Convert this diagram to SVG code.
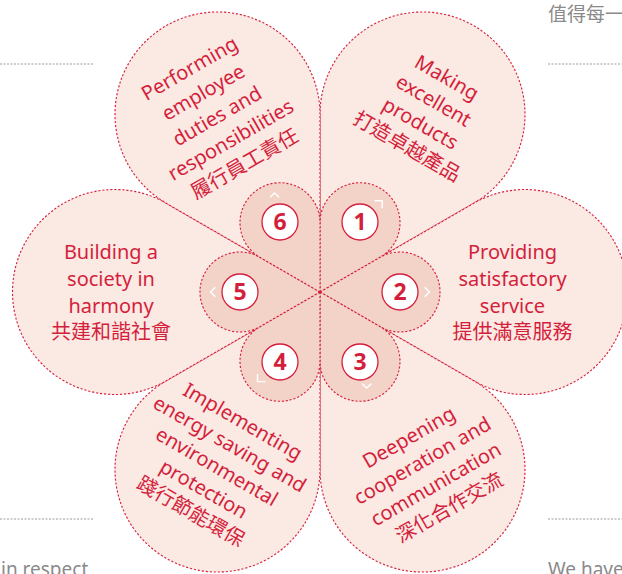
<svg xmlns="http://www.w3.org/2000/svg" width="622" height="574" viewBox="0 0 622 574">
<style>
.outer{fill:#fbe9e3;stroke:#d6233f;stroke-width:1.15;stroke-dasharray:2.2 1.8}
.inner{fill:#f3d3c8;stroke:#d6233f;stroke-width:1.15;stroke-dasharray:2.2 1.8}
.lbl{font-family:"Noto Sans","Noto Sans CJK TC",sans-serif;font-size:20px;fill:#d41f3c;text-anchor:middle}
.num{fill:#fff;stroke:#d41f3c;stroke-width:1.3}
.numt{font-family:"Noto Sans",sans-serif;font-weight:bold;font-size:23px;fill:#d41f3c;text-anchor:middle}
.chev{fill:none;stroke:#fff;stroke-width:1.4}
.side{font-family:"Noto Sans","Noto Sans CJK TC",sans-serif;font-size:19px;fill:#8a8a8a}
.gl{stroke:#9a9a9a;stroke-width:1;stroke-dasharray:2 1.5}
</style>
<defs>
<path id="po" d="M0,0 L153.72,-88.75 A102.5,102.5 0 1 1 153.72,88.75 Z"/>
<path id="pi" d="M0,0 L60,-34.64 A40,40 0 1 1 60,34.64 Z"/>
</defs>
<g id="side-text">
<text class="side" x="548" y="21">值得每一</text>
<text class="side" x="1" y="576">in respect</text>
<text class="side" x="548" y="576">We have</text>
<line class="gl" x1="0" y1="64" x2="94" y2="64"/>
<line class="gl" x1="548" y1="64" x2="622" y2="64"/>
<line class="gl" x1="0" y1="519" x2="94" y2="519"/>
<line class="gl" x1="548" y1="519" x2="622" y2="519"/>
</g>
<g id="petal-1">
<use href="#po" class="outer" transform="translate(320,292) rotate(-60)"/>
<g transform="translate(427,112) rotate(30)">
<text class="lbl" y="-32.75">Making</text>
<text class="lbl" y="-6.25">excellent</text>
<text class="lbl" y="20.25">products</text>
<text class="lbl" y="46.75">打造卓越產品</text>
</g>
</g>
<g id="petal-2">
<use href="#po" class="outer" transform="translate(320,292)"/>
<text class="lbl" x="512.5" y="259">Providing</text>
<text class="lbl" x="512.5" y="286">satisfactory</text>
<text class="lbl" x="512.5" y="313">service</text>
<text class="lbl" x="512.5" y="339">提供滿意服務</text>
</g>
<g id="petal-3">
<use href="#po" class="outer" transform="translate(320,292) rotate(60)"/>
<g transform="translate(429,472.4) rotate(-30)">
<text class="lbl" y="-33.5">Deepening</text>
<text class="lbl" y="-6.5">cooperation and</text>
<text class="lbl" y="20.5">communication</text>
<text class="lbl" y="47.5">深化合作交流</text>
</g>
</g>
<g id="petal-4">
<use href="#po" class="outer" transform="translate(320,292) rotate(120)"/>
<g transform="translate(216.8,466.5) rotate(30)">
<text class="lbl" y="-45">Implementing</text>
<text class="lbl" y="-19">energy saving and</text>
<text class="lbl" y="7">environmental</text>
<text class="lbl" y="33">protection</text>
<text class="lbl" y="59">踐行節能環保</text>
</g>
</g>
<g id="petal-5">
<use href="#po" class="outer" transform="translate(320,292) rotate(180)"/>
<text class="lbl" x="111" y="259">Building a</text>
<text class="lbl" x="111" y="286">society in</text>
<text class="lbl" x="111" y="313">harmony</text>
<text class="lbl" x="111" y="339">共建和諧社會</text>
</g>
<g id="petal-6">
<use href="#po" class="outer" transform="translate(320,292) rotate(-120)"/>
<g transform="translate(217,116) rotate(-30)">
<text class="lbl" y="-48">Performing</text>
<text class="lbl" y="-20.5">employee</text>
<text class="lbl" y="7">duties and</text>
<text class="lbl" y="34.5">responsibilities</text>
<text class="lbl" y="62">履行員工責任</text>
</g>
</g>
<g id="connectors">
<use href="#pi" class="inner" transform="translate(320,292) rotate(-60)"/>
<use href="#pi" class="inner" transform="translate(320,292)"/>
<use href="#pi" class="inner" transform="translate(320,292) rotate(60)"/>
<use href="#pi" class="inner" transform="translate(320,292) rotate(120)"/>
<use href="#pi" class="inner" transform="translate(320,292) rotate(180)"/>
<use href="#pi" class="inner" transform="translate(320,292) rotate(-120)"/>
<circle cx="320" cy="292" r="1.6" fill="#d41f3c"/>
</g>
<g id="step-1">
<circle class="num" cx="360" cy="222" r="18"/>
<text class="numt" x="360" y="230">1</text>
<polyline class="chev" points="374.5,200.8 382.2,200.8 382.2,208.3"/>
</g>
<g id="step-2">
<circle class="num" cx="400" cy="292" r="18"/>
<text class="numt" x="400" y="300">2</text>
<polyline class="chev" points="424.5,287.3 429.5,292 424.5,296.7"/>
</g>
<g id="step-3">
<circle class="num" cx="360" cy="362" r="18"/>
<text class="numt" x="360" y="370">3</text>
<polyline class="chev" points="362,383.5 366.7,388 371.4,383.5"/>
</g>
<g id="step-4">
<circle class="num" cx="280" cy="362" r="18"/>
<text class="numt" x="280" y="370">4</text>
<polyline class="chev" points="257.5,374 257.5,381.6 265.5,381.6"/>
</g>
<g id="step-5">
<circle class="num" cx="240" cy="292" r="18"/>
<text class="numt" x="240" y="300">5</text>
<polyline class="chev" points="215.5,287.3 210.5,292 215.5,296.7"/>
</g>
<g id="step-6">
<circle class="num" cx="280" cy="222" r="18"/>
<text class="numt" x="280" y="230">6</text>
<polyline class="chev" points="270,197.2 274.5,193 279,197.2"/>
</g>
</svg>
